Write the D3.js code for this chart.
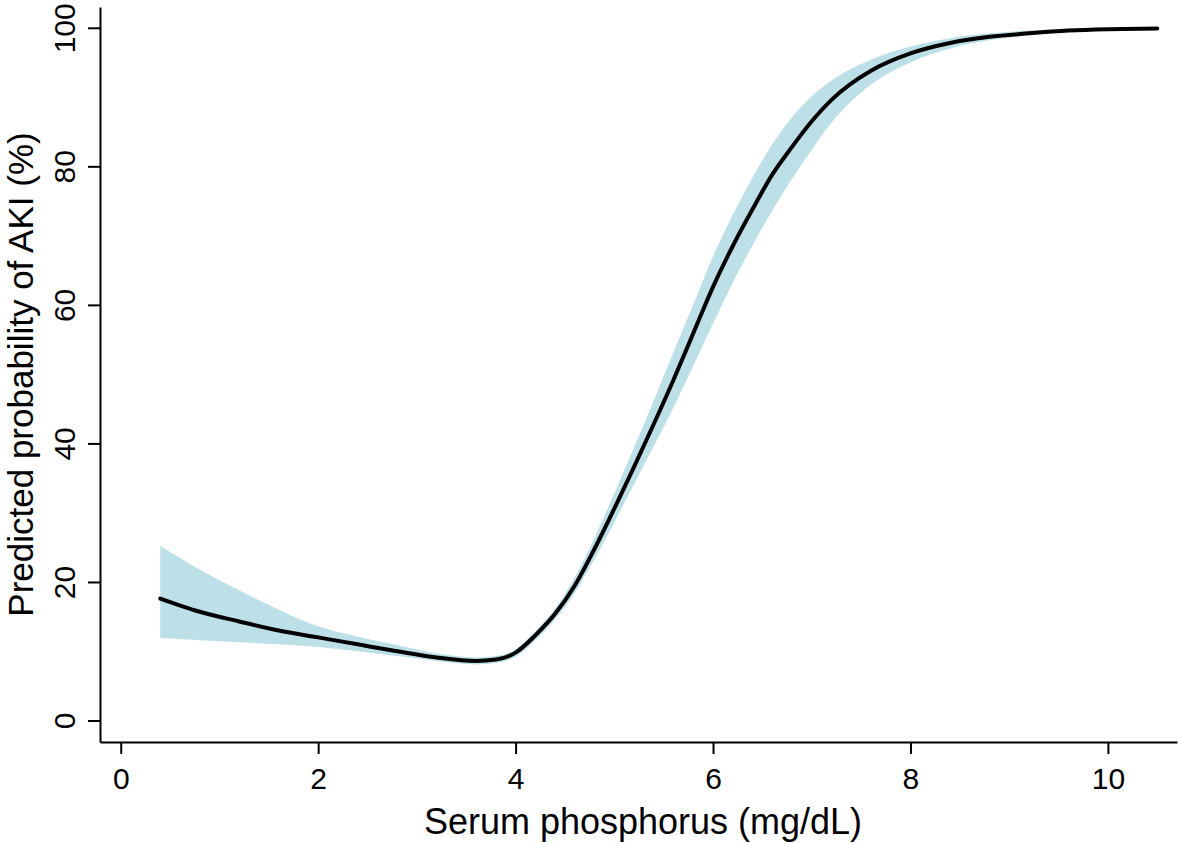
<!DOCTYPE html>
<html>
<head>
<meta charset="utf-8">
<script src="https://cdn.jsdelivr.net/npm/d3@7"></script>
<style>
  body { margin: 0; background: #fff; }
  svg text { font-family: "Liberation Sans", Arial, sans-serif; fill: #000; }
</style>
</head>
<body>
<svg id="chart"></svg>
<script>
"use strict";

// Serum phosphorus (mg/dL)
const phosphorus = [0.4, 0.8, 1.2, 1.6, 2.0, 2.4, 2.8, 3.2, 3.6, 3.8, 4.0, 4.2, 4.4, 4.6, 4.8,
    5.0, 5.2, 5.4, 5.6, 5.8, 6.0, 6.2, 6.4, 6.6, 6.8, 7.0, 7.2, 7.6, 8.0, 8.4, 8.8, 9.2, 9.6, 10.0, 10.5];
// Predicted probability of AKI (%)
const predicted = [17.6, 15.7, 14.3, 13.0, 12.0, 11.0, 10.0, 9.1, 8.6, 8.8, 9.8, 12.3, 15.4, 19.5, 24.8,
    30.6, 36.6, 42.8, 49.2, 55.9, 62.6, 68.5, 73.8, 78.8, 82.8, 86.5, 89.6, 93.8, 96.3, 97.8, 98.7, 99.2, 99.6, 99.8, 99.9];
// 95% confidence band
const upperCI = [25.2, 21.8, 18.8, 16.0, 13.6, 12.1, 10.9, 9.7, 9.1, 9.3, 10.3, 12.9, 16.2, 20.7, 26.4,
    32.8, 39.4, 46.2, 53.2, 60.1, 67.0, 73.0, 78.4, 83.2, 87.1, 90.1, 92.4, 95.4, 97.3, 98.5, 99.2, 99.6, 99.8, 99.9, 100.0];
const lowerCI = [11.9, 11.6, 11.3, 11.0, 10.6, 10.0, 9.3, 8.6, 8.1, 8.3, 9.2, 11.6, 14.6, 18.4, 23.3,
    28.6, 34.1, 39.6, 45.2, 51.2, 57.3, 63.2, 68.6, 73.6, 78.2, 82.4, 86.3, 91.8, 95.0, 97.0, 98.2, 98.9, 99.4, 99.7, 99.8];

const xTicks = [0, 2, 4, 6, 8, 10];
const yTicks = [0, 20, 40, 60, 80, 100];

const width = 1181, height = 843;

const svg = d3.select('#chart')
    .attr('width', width)
    .attr('height', height);

// axis lines run a little past the tick range, like the original
const x = d3.scaleLinear().domain([-0.21, 10.70]).range([100, 1177]);
const y = d3.scaleLinear().domain([-3.1, 103]).range([742, 7]);

const rows = phosphorus.map((p, i) => ({ p, est: predicted[i], lo: lowerCI[i], hi: upperCI[i] }));

const band = d3.area()
    .x(d => x(d.p))
    .y0(d => y(d.lo))
    .y1(d => y(d.hi))
    .curve(d3.curveMonotoneX);

svg.append('path')
    .datum(rows)
    .attr('d', band)
    .attr('fill', '#bde0e8');

const line = d3.line()
    .x(d => x(d.p))
    .y(d => y(d.est))
    .curve(d3.curveMonotoneX);

svg.append('path')
    .datum(rows)
    .attr('d', line)
    .attr('fill', 'none')
    .attr('stroke', '#000')
    .attr('stroke-width', 4)
    .attr('stroke-linecap', 'round')
    .attr('stroke-linejoin', 'round');

// x axis
const xAxis = svg.append('g')
    .attr('transform', 'translate(0,742)')
    .call(d3.axisBottom(x).tickValues(xTicks).tickSize(12).tickSizeOuter(0).tickPadding(14));

xAxis.selectAll('text').attr('font-size', '30px').attr('font-family', null);

// y axis, labels turned upright like Stata
const yAxis = svg.append('g')
    .attr('transform', 'translate(100,0)')
    .call(d3.axisLeft(y).tickValues(yTicks).tickSize(12).tickSizeOuter(0));

yAxis.selectAll('text')
    .attr('font-size', '30px')
    .attr('font-family', null)
    .attr('x', null)
    .attr('dy', null)
    .attr('text-anchor', 'middle')
    .attr('transform', 'translate(-25,0) rotate(-90)');

svg.selectAll('.domain, .tick line')
    .attr('stroke', '#000')
    .attr('stroke-width', 2);

// axis titles
svg.append('text')
    .attr('x', 643)
    .attr('y', 834)
    .attr('text-anchor', 'middle')
    .attr('font-size', '36px')
    .text('Serum phosphorus (mg/dL)');

// y title is centred on the plot region
const yMid = (y.range()[0] + y.range()[1]) / 2;
svg.append('text')
    .attr('transform', `translate(33,${yMid}) rotate(-90)`)
    .attr('text-anchor', 'middle')
    .attr('font-size', '35px')
    .text('Predicted probability of AKI (%)');
</script>
</body>
</html>
